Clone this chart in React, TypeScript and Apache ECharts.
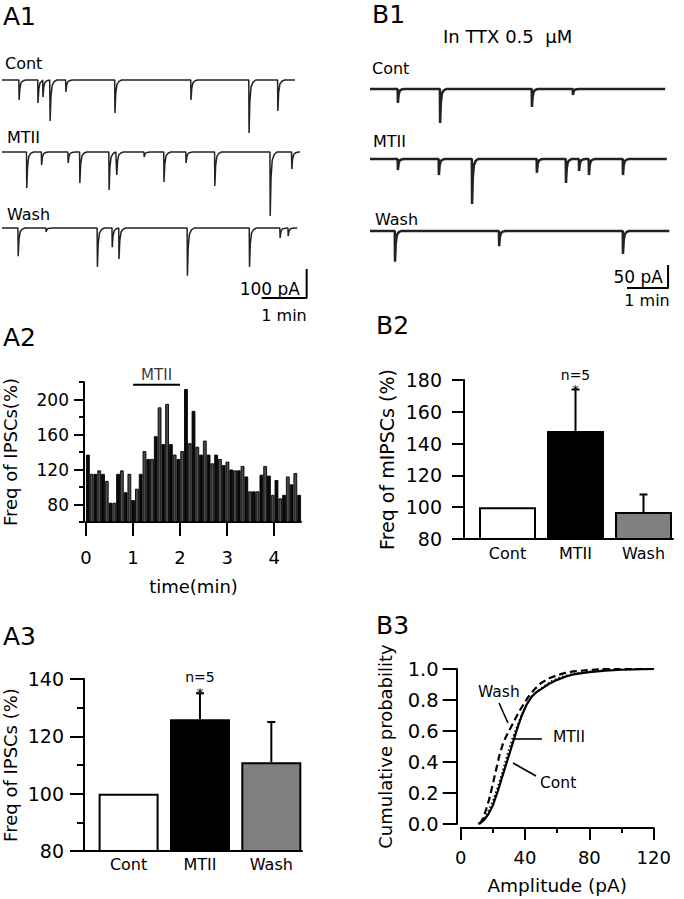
import { useEffect, useRef } from 'react';
import * as echarts from 'echarts';

const FONT = 'DejaVu Sans';

// ---------- A1: IPSC traces, events as [time (min), amplitude (pA)] ----------
const A1_CONT_EVENTS = [[0.38, 69], [0.8, 79], [0.91, 59], [1.07, 141], [1.42, 41], [2.51, 114], [4.2, 69], [5.49, 183], [6.13, 107]];
const A1_MTII_EVENTS = [[0.55, 124], [0.88, 45], [1.47, 38], [1.73, 107], [2.38, 131], [2.55, 79], [3.16, 17], [3.6, 103], [4.09, 38], [4.73, 117], [5.96, 221], [6.44, 59]];
const A1_WASH_EVENTS = [[0.36, 97], [0.98, 14], [2.12, 134], [2.45, 66], [2.6, 107], [4.12, 165], [5.5, 134], [6.18, 34], [6.36, 28]];
const A1_DURATION = [6.51, 6.62, 6.56];
const A1_SCALE = [1, 100]; // 1 min, 100 pA

// ---------- B1: mIPSC traces in TTX ----------
const B1_CONT_EVENTS = [[0.68, 30], [1.71, 74], [3.95, 39], [4.95, 13]];
const B1_MTII_EVENTS = [[0.68, 24], [1.68, 35], [2.49, 98], [4.07, 30], [4.78, 52], [5.1, 26], [5.34, 35], [6.17, 35]];
const B1_WASH_EVENTS = [[0.61, 67], [3.15, 33], [6.17, 50]];
const B1_DURATION = [7.2, 7.24, 7.3];
const B1_SCALE = [1, 50]; // 1 min, 50 pA

const TRACE_NAMES = ['Cont', 'MTII', 'Wash'];

// ---------- A2: frequency histogram (5-s bins) ----------
const A2_FREQ = [137, 115, 115, 119, 115, 107, 82, 82, 115, 119, 94, 115, 85, 98, 115, 141, 132, 132, 158, 191, 149, 195, 149, 137, 132, 141, 212, 150, 187, 146, 137, 153, 137, 127, 137, 132, 125, 129, 120, 119, 119, 124, 112, 95, 95, 95, 114, 124, 113, 91, 108, 87, 91, 112, 103, 116, 91];
const A2_X_TICKS = [0, 1, 2, 3, 4];
const A2_Y_LABELS = [80, 120, 160, 200];
const A2_MTII_PERIOD = [1, 2];

// ---------- A3 / B2: summary bars ----------
const CONDITIONS = ['Cont', 'MTII', 'Wash'];
const A3_MEAN = [100, 126, 111];
const A3_ERR_TOP = [null, 135, 125];
const B2_MEAN = [100, 148, 97];
const B2_ERR_TOP = [null, 174, 108];
const SIGNIFICANT = [false, true, false];
const N_LABEL = 'n=5';

// ---------- B3: cumulative amplitude distributions ----------
const B3_CONT = [[11, 0], [14, 0.02], [17, 0.06], [20, 0.12], [23, 0.21], [26, 0.31], [29, 0.41], [32, 0.51], [35, 0.61], [38, 0.7], [41, 0.77], [44, 0.82], [47, 0.85], [50, 0.87], [55, 0.905], [60, 0.93], [65, 0.95], [70, 0.965], [80, 0.98], [90, 0.99], [100, 0.995], [120, 1]];
const B3_MTII = [[11, 0], [14, 0.03], [17, 0.08], [20, 0.15], [23, 0.24], [26, 0.34], [29, 0.45], [32, 0.55], [35, 0.63], [38, 0.71], [41, 0.77], [44, 0.82], [48, 0.86], [52, 0.89], [56, 0.92], [60, 0.94], [66, 0.96], [72, 0.975], [80, 0.985], [90, 0.993], [100, 0.997], [120, 1]];
const B3_WASH = [[12, 0], [14, 0.04], [16, 0.1], [18, 0.17], [20, 0.26], [22, 0.35], [24, 0.44], [26, 0.51], [28, 0.56], [30, 0.6], [33, 0.66], [36, 0.72], [39, 0.77], [42, 0.82], [46, 0.87], [50, 0.91], [55, 0.94], [60, 0.96], [65, 0.975], [70, 0.985], [80, 0.993], [90, 1], [120, 1]];

// ---------- helpers ----------
function traceLine(events: number[][], duration: number) {
  const pts: number[][] = [[0, 0]];
  const tail = [[0.018, 0.4], [0.045, 0.13], [0.09, 0.04], [0.15, 0]];
  events.forEach(([t, a], i) => {
    const next = i + 1 < events.length ? events[i + 1][0] : duration;
    pts.push([t - 0.006, 0], [t, -a]);
    tail.forEach(([dt, f]) => {
      if (t + dt < next - 0.006) pts.push([t + dt, -a * f]);
    });
  });
  pts.push([duration, 0]);
  return pts;
}

const BLACK = '#000';
const axLine = { show: true, onZero: false, lineStyle: { color: BLACK, width: 2 } };
const noSplit = { show: false };

function errorSeries(xIdx: number, yIdx: number, means: number[], tops: (number | null)[], capHalf: number, nOff: number, sOff: number) {
  const data = means.map((m, i) => [i, m, tops[i], SIGNIFICANT[i] ? 1 : 0]).filter((d) => d[2] != null);
  return {
    type: 'custom',
    xAxisIndex: xIdx,
    yAxisIndex: yIdx,
    z: 5,
    silent: true,
    data,
    renderItem: (_p: any, api: any) => {
      const x = api.value(0);
      const p0 = api.coord([x, api.value(1)]);
      const p1 = api.coord([x, api.value(2)]);
      const st = { stroke: BLACK, lineWidth: 2 };
      const children: any[] = [
        { type: 'line', shape: { x1: p0[0], y1: p0[1], x2: p1[0], y2: p1[1] }, style: st },
        { type: 'line', shape: { x1: p1[0] - capHalf, y1: p1[1], x2: p1[0] + capHalf, y2: p1[1] }, style: st },
      ];
      if (api.value(3) === 1) {
        children.push({
          type: 'text', x: p1[0], y: p1[1] - nOff,
          style: { text: N_LABEL, fill: BLACK, font: `14px "${FONT}"`, textAlign: 'center', textVerticalAlign: 'bottom', align: 'center', verticalAlign: 'bottom' },
        });
        children.push({
          type: 'text', x: p1[0], y: p1[1] - sOff,
          style: { text: '*', fill: BLACK, font: `13px "${FONT}"`, textAlign: 'center', textVerticalAlign: 'middle', align: 'center', verticalAlign: 'middle' },
        });
      }
      return { type: 'group', children };
    },
  };
}

function text(t: string, x: number, y: number, size: number, align = 'left') {
  return {
    type: 'text',
    x,
    y,
    silent: true,
    style: {
      text: t,
      fill: BLACK,
      font: `${size}px "${FONT}"`,
      fontSize: size,
      fontFamily: FONT,
      textAlign: align,
      textVerticalAlign: 'middle',
      align,
      verticalAlign: 'middle',
    },
  };
}

function seg(x1: number, y1: number, x2: number, y2: number) {
  return { type: 'line', silent: true, shape: { x1, y1, x2, y2 }, style: { stroke: BLACK, lineWidth: 1.6 } };
}

function buildOption() {
  const grid: any[] = [];
  const xAxis: any[] = [];
  const yAxis: any[] = [];
  const series: any[] = [];

  // trace panels
  const panels = [
    { left: 2, pxMin: 45, pxPA: 0.29, xMax: 6.8, yMin: -260, yMax: 30, base: [80, 152, 228], ev: [A1_CONT_EVENTS, A1_MTII_EVENTS, A1_WASH_EVENTS], dur: A1_DURATION, lw: 1.5, scale: A1_SCALE, scaleEnd: 6.77, scaleLevel: -241 },
    { left: 370, pxMin: 41, pxPA: 0.46, xMax: 7.35, yMin: -140, yMax: 20, base: [89, 159, 231], ev: [B1_CONT_EVENTS, B1_MTII_EVENTS, B1_WASH_EVENTS], dur: B1_DURATION, lw: 2.5, scale: B1_SCALE, scaleEnd: 7.27, scaleLevel: -124 },
  ];
  panels.forEach((p) => {
    p.base.forEach((b, k) => {
      const idx = grid.length;
      grid.push({ left: p.left, top: b - p.yMax * p.pxPA, width: p.xMax * p.pxMin, height: (p.yMax - p.yMin) * p.pxPA });
      xAxis.push({ type: 'value', gridIndex: idx, min: 0, max: p.xMax, show: false });
      yAxis.push({ type: 'value', gridIndex: idx, min: p.yMin, max: p.yMax, show: false });
      series.push({
        type: 'line', xAxisIndex: idx, yAxisIndex: idx, data: traceLine(p.ev[k], p.dur[k]),
        symbol: 'none', silent: true, clip: false, lineStyle: { color: '#222', width: p.lw },
      });
      if (k === 2) {
        const [tMin, amp] = p.scale;
        series.push({
          type: 'line', xAxisIndex: idx, yAxisIndex: idx, symbol: 'none', silent: true, clip: false,
          data: [[p.scaleEnd - tMin, p.scaleLevel], [p.scaleEnd, p.scaleLevel], [p.scaleEnd, p.scaleLevel + amp]],
          lineStyle: { color: BLACK, width: 2 },
        });
      }
    });
  });

  // A2 histogram: grid 6, xAxis 6 (value), xAxis 7 (category), yAxis 6
  grid.push({ left: 84, top: 382, width: 217, height: 140 });
  xAxis.push({
    type: 'value', gridIndex: 6, position: 'bottom', min: 0, max: 4.57,
    axisLine: axLine, splitLine: noSplit,
    axisTick: { show: true, customValues: A2_X_TICKS, length: 14, lineStyle: { color: BLACK, width: 2 } },
    axisLabel: { customValues: A2_X_TICKS, fontSize: 18, margin: 26, color: BLACK, fontFamily: FONT },
    name: 'time(min)', nameLocation: 'middle', nameGap: 55,
    nameTextStyle: { fontSize: 18, color: BLACK, fontFamily: FONT },
  });
  xAxis.push({ type: 'category', gridIndex: 6, position: 'top', show: false, boundaryGap: true, data: A2_FREQ.map((_, i) => String(i)) });
  yAxis.push({
    type: 'value', gridIndex: 6, min: 60, max: 220, interval: 40, offset: 2,
    axisLine: axLine, splitLine: noSplit, minorSplitLine: { show: false },
    axisTick: { show: true, length: 5, lineStyle: { color: BLACK, width: 2 } },
    minorTick: { show: true, splitNumber: 2, length: 10, lineStyle: { color: BLACK, width: 2 } },
    axisLabel: { customValues: A2_Y_LABELS, fontSize: 17, margin: 15, color: BLACK, fontFamily: FONT },
    name: 'Freq of IPSCs(%)', nameLocation: 'middle', nameRotate: 90, nameGap: 65,
    nameTextStyle: { fontSize: 18, color: BLACK, fontFamily: FONT },
  });
  series.push({
    type: 'bar', xAxisIndex: 7, yAxisIndex: 6, data: A2_FREQ, barCategoryGap: '0%', silent: true,
    itemStyle: { color: (p: any) => (p.dataIndex % 2 ? '#4a4a4a' : '#0a0a0a'), borderColor: BLACK, borderWidth: 0.9 },
  });
  series.push({
    type: 'line', xAxisIndex: 6, yAxisIndex: 6, symbol: 'none', silent: true,
    data: A2_MTII_PERIOD.map((t) => [t, 217]), lineStyle: { color: BLACK, width: 2 },
  });
  series.push({
    type: 'scatter', xAxisIndex: 6, yAxisIndex: 6, symbolSize: 0, silent: true,
    data: [[(A2_MTII_PERIOD[0] + A2_MTII_PERIOD[1]) / 2, 217]],
    label: { show: true, formatter: 'MTII', position: 'top', distance: 2, fontSize: 15, color: BLACK, fontFamily: FONT },
  });

  // A3 bars: grid 7, xAxis 8, yAxis 7 ; B2 bars: grid 8, xAxis 9, yAxis 8
  const FILL = ['#fff', '#000', '#808080'];
  const barPanels = [
    { g: { left: 82, top: 679, width: 220, height: 172 }, xMin: -0.625, xMax: 2.43, yMin: 80, yMax: 140, minor: true, tick: 14, lblSize: 19, lblMargin: 20, name: 'Freq of IPSCs (%)', nameGap: 65, nameSize: 18, mean: A3_MEAN, top: A3_ERR_TOP, bw: 60, cap: 4, catMargin: 5, nOff: 9, sOff: 1 },
    { g: { left: 464, top: 380, width: 209, height: 159 }, xMin: -0.64, xMax: 2.434, yMin: 80, yMax: 180, minor: false, tick: 12, lblSize: 19, lblMargin: 22, name: 'Freq of mIPSCs (%)', nameGap: 68, nameSize: 19, mean: B2_MEAN, top: B2_ERR_TOP, bw: 57, cap: 4, catMargin: 6, nOff: 8, sOff: 0 },
  ];
  barPanels.forEach((bp) => {
    const gi = grid.length;
    const xi = xAxis.length;
    const yi = yAxis.length;
    grid.push(bp.g);
    xAxis.push({
      type: 'value', gridIndex: gi, min: bp.xMin, max: bp.xMax,
      axisLine: axLine, splitLine: noSplit, axisTick: { show: false },
      axisLabel: { customValues: [0, 1, 2], formatter: (v: number) => CONDITIONS[Math.round(v)], fontSize: 16, margin: bp.catMargin, color: BLACK, fontFamily: FONT },
    });
    yAxis.push({
      type: 'value', gridIndex: gi, min: bp.yMin, max: bp.yMax, interval: 20,
      axisLine: axLine, splitLine: noSplit, minorSplitLine: { show: false },
      axisTick: { show: true, length: bp.tick, lineStyle: { color: BLACK, width: 2 } },
      minorTick: { show: bp.minor, splitNumber: 2, length: 7, lineStyle: { color: BLACK, width: 2 } },
      axisLabel: { fontSize: bp.lblSize, margin: bp.lblMargin, color: BLACK, fontFamily: FONT },
      name: bp.name, nameLocation: 'middle', nameRotate: 90, nameGap: bp.nameGap,
      nameTextStyle: { fontSize: bp.nameSize, color: BLACK, fontFamily: FONT },
    });
    series.push({
      type: 'bar', xAxisIndex: xi, yAxisIndex: yi, barWidth: bp.bw, silent: true,
      data: bp.mean.map((v, i) => ({ value: [i, v], itemStyle: { color: FILL[i] } })),
      itemStyle: { borderColor: BLACK, borderWidth: 2 },
    });
    series.push(errorSeries(xi, yi, bp.mean, bp.top, bp.cap, bp.nOff, bp.sOff));
  });

  // B3 cumulative: grid 9, xAxis 10, yAxis 9
  grid.push({ left: 460.7, top: 669, width: 193, height: 155 });
  xAxis.push({
    type: 'value', gridIndex: 9, min: 0, max: 120, interval: 40, offset: 4,
    axisLine: axLine, splitLine: noSplit, minorSplitLine: { show: false },
    axisTick: { show: true, length: 12, lineStyle: { color: BLACK, width: 2 } },
    minorTick: { show: true, splitNumber: 2, length: 5, lineStyle: { color: BLACK, width: 2 } },
    axisLabel: { fontSize: 18, margin: 20, color: BLACK, fontFamily: FONT },
    name: 'Amplitude (pA)', nameLocation: 'middle', nameGap: 48,
    nameTextStyle: { fontSize: 18.5, color: BLACK, fontFamily: FONT },
  });
  yAxis.push({
    type: 'value', gridIndex: 9, min: 0, max: 1, interval: 0.2, offset: 4,
    axisLine: axLine, splitLine: noSplit,
    axisTick: { show: true, length: 14, lineStyle: { color: BLACK, width: 2 } },
    axisLabel: { fontSize: 19.5, margin: 18, color: BLACK, fontFamily: FONT, formatter: (v: number) => v.toFixed(1) },
    name: 'Cumulative probability', nameLocation: 'middle', nameRotate: 90, nameGap: 62,
    nameTextStyle: { fontSize: 18, color: BLACK, fontFamily: FONT },
  });
  const cdfStyles: any[] = [
    { data: B3_CONT, type: 'solid', width: 2.2 },
    { data: B3_MTII, type: [1.5, 2.5], width: 1.6 },
    { data: B3_WASH, type: [7, 4], width: 2.2 },
  ];
  cdfStyles.forEach((c) => {
    series.push({
      type: 'line', xAxisIndex: 10, yAxisIndex: 9, data: c.data, symbol: 'none', silent: true,
      lineStyle: { color: BLACK, width: c.width, type: c.type },
    });
  });

  const graphic: any[] = [
    text('A1', 3, 16, 25), text('B1', 372, 14, 25),
    text('A2', 3, 337, 25), text('B2', 376, 325.5, 25),
    text('A3', 3, 636, 25), text('B3', 376, 625.5, 25),
    text(TRACE_NAMES[0], 5, 63.5, 16), text(TRACE_NAMES[1], 7, 137, 16), text(TRACE_NAMES[2], 7, 214, 16),
    text(TRACE_NAMES[0], 372, 68, 16), text(TRACE_NAMES[1], 373, 141, 16), text(TRACE_NAMES[2], 375, 219, 16),
    text('In TTX 0.5  \u03bcM', 443, 36, 18),
    text(`${A1_SCALE[1]} pA`, 300, 289, 17, 'right'),
    text(`${A1_SCALE[0]} min`, 284, 315, 16, 'center'),
    text(`${B1_SCALE[1]} pA`, 663, 277, 17, 'right'),
    text(`${B1_SCALE[0]} min`, 647, 300, 16, 'center'),
    text('Wash', 478, 691.5, 15.5), seg(499, 703, 508, 723),
    text('MTII', 553, 736.5, 15.5), seg(513, 739, 542, 739),
    text('Cont', 540, 782.5, 15.5), seg(513, 763, 536, 776),
  ];

  return {
    animation: false,
    backgroundColor: '#fff',
    textStyle: { fontFamily: FONT, color: BLACK },
    grid,
    xAxis,
    yAxis,
    series,
    graphic,
  };
}

export default function App() {
  const ref = useRef<HTMLDivElement>(null);
  useEffect(() => {
    if (!ref.current) return;
    const chart = echarts.init(ref.current, undefined, { renderer: 'svg' });
    chart.setOption(buildOption() as any);
    return () => chart.dispose();
  }, []);
  return <div ref={ref} style={{ position: 'fixed', left: 0, top: 0, width: 684, height: 899, background: '#fff' }} />;
}
